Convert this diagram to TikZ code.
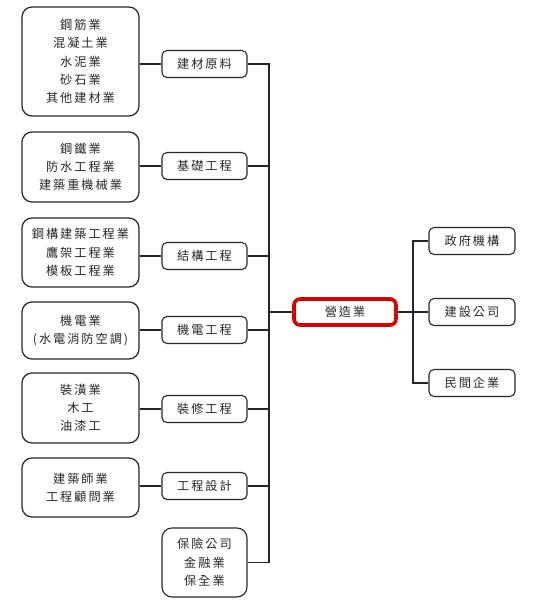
\documentclass[tikz,border=0pt]{standalone}
\usepackage{fontspec}
\newfontfamily\cjk[LetterSpace=16]{Noto Sans CJK TC}
\begin{document}
\begin{tikzpicture}[x=1pt,y=-1pt,
  every node/.style={font=\cjk\fontsize{12.2}{18.3}\selectfont, text=black!85, align=center, inner sep=0pt},
  bigbox/.style={draw=black!85, line width=1.2pt, rounded corners=10pt, minimum width=117pt},
  midbox/.style={draw=black!85, line width=1.1pt, rounded corners=5pt, minimum width=85pt, minimum height=27pt},
  mainbox/.style={draw=red!85!black, line width=3.6pt, rounded corners=6pt, minimum width=102pt, minimum height=26pt},
  link/.style={draw=black!85, line width=1.1pt}]
\useasboundingbox (0,0) rectangle (543,606);
% left boxes
\node[bigbox, minimum height=109pt] (b1) at (80.5,61.5) {鋼筋業\\混凝土業\\水泥業\\砂石業\\其他建材業};
\node[bigbox, minimum height=70pt] (b2) at (80.5,167) {鋼鐵業\\防水工程業\\建築重機械業};
\node[bigbox, minimum height=69pt] (b3) at (80.5,252.5) {鋼構建築工程業\\鷹架工程業\\模板工程業};
\node[bigbox, minimum height=57pt] (b4) at (80.5,330.5) {機電業\\(水電消防空調)};
\node[bigbox, minimum height=70pt] (b5) at (80.5,408) {裝潢業\\木工\\油漆工};
\node[bigbox, minimum height=59pt] (b6) at (80.5,487.5) {建築師業\\工程顧問業};
% middle boxes
\node[midbox] (m1) at (204.5,64) {建材原料};
\node[midbox] (m2) at (204.5,166) {基礎工程};
\node[midbox] (m3) at (204.5,256) {結構工程};
\node[midbox] (m4) at (204.5,330) {機電工程};
\node[midbox] (m5) at (204.5,409) {裝修工程};
\node[midbox] (m6) at (204.5,486) {工程設計};
\node[midbox, rounded corners=10pt, minimum height=69pt] (m7) at (204.5,562.5) {保險公司\\金融業\\保全業};
% main
\node[mainbox] (main) at (345,312) {營造業};
% right boxes
\node[midbox, minimum width=86pt] (r1) at (472,241) {政府機構};
\node[midbox, minimum width=86pt] (r2) at (472,312) {建設公司};
\node[midbox, minimum width=86pt] (r3) at (472,383) {民間企業};
% junction coordinates
\coordinate (J) at (269,0);
\coordinate (R) at (413,0);
% left to middle
\foreach \i in {1,...,6} {\draw[link] (b\i.east |- m\i.west) -- (m\i.west);}
% trunk
\draw[link] (m1.east) -- (m1.east -| J) -- (m7.east -| J) -- (m7.east);
\foreach \i in {2,...,6} {\draw[link] (m\i.east) -- (m\i.east -| J);}
\draw[link] (J |- main.west) -- (main.west);
% right
\draw[link] (main.east) -- (r2.west);
\draw[link] (r1.west) -- (r1.west -| R) -- (r3.west -| R) -- (r3.west);
\end{tikzpicture}
\end{document}
